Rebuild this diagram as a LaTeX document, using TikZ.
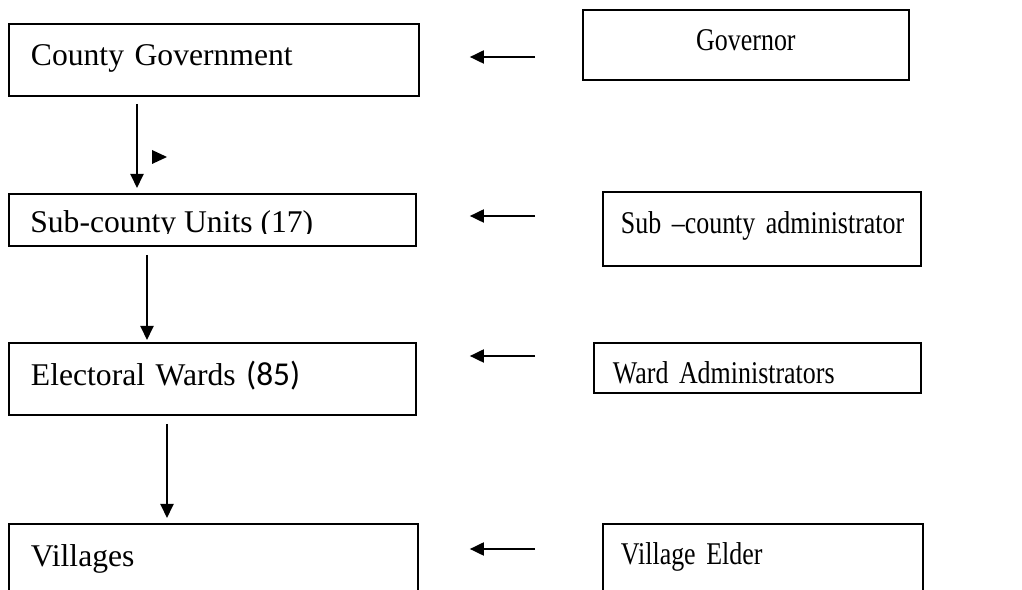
\documentclass[tikz,border=0pt]{standalone}
\usepackage{fontspec}
\setmainfont{Liberation Serif}
\newfontfamily\narrowserif[FakeStretch=0.82, WordSpace=0.85]{Liberation Serif}
\newfontfamily\calibrifont{Carlito}
\usetikzlibrary{arrows.meta}

\begin{document}
\begin{tikzpicture}[x=0.02cm, y=-0.02cm,
  >={Triangle[length=0.28cm, width=0.26cm]},
  every node/.style={font=\fontsize{18}{22}\selectfont},
  unitbox/.style={draw, line width=1.1pt, anchor=north west, align=left, inner ysep=0pt},
  officebox/.style={unitbox, font=\fontsize{18}{22}\selectfont\narrowserif},
  lift/.style={text height=#1, text depth=0pt},
  link/.style={->, line width=1.1pt}]
  \useasboundingbox (0,0) rectangle (1022,590);

  % left column: units of government
  \node[unitbox, inner xsep=0.44cm, text width=7.32cm, minimum height=1.44cm, lift=6.2pt] (county) at (8,23) {County Government};
  \node[unitbox, inner xsep=0pt, text width=8.14cm, minimum height=1.04cm] (units) at (8,193) {};
  \node[unitbox, inner xsep=0.44cm, text width=7.26cm, minimum height=1.44cm, lift=7.4pt] (wards) at (8,342) {Electoral Wards {\fontsize{19}{22}\calibrifont(85)}};
  \node[unitbox, inner xsep=0.44cm, text width=7.30cm, minimum height=1.54cm, lift=4.5pt] (villages) at (8,523) {Villages};

  \begin{scope}
    \clip (8,193) rectangle (415,234);
    \node[anchor=base west, inner sep=0pt] (unitstext) at (30,233) {Sub-county Units (17)};
  \end{scope}

  % right column: officers
  \node[officebox, align=center, inner xsep=0pt, text width=6.52cm, minimum height=1.4cm, lift=6.2pt] (governor) at (582,9) {Governor};
  \node[officebox, inner xsep=0.36cm, text width=5.64cm, minimum height=1.48cm, lift=5.1pt] (subadmin) at (602,191) {\mbox{Sub –county administrator}};
  \node[officebox, inner xsep=0.38cm, text width=5.78cm, minimum height=1.0cm, lift=17.6pt] (wardadmin) at (593,342) {Ward Administrators};
  \node[officebox, inner xsep=0.36cm, text width=5.68cm, minimum height=1.54cm, lift=2.8pt] (elder) at (602,523) {Village Elder};

  % downward arrows
  \coordinate (drop1) at (137,0);
  \coordinate (drop2) at (147,0);
  \coordinate (drop3) at (167,0);
  \draw[link, shorten <=0.14cm, shorten >=0.1cm] (county.south -| drop1) -- (units.north -| drop1);
  \draw[link, shorten <=0.16cm, shorten >=0.04cm] (units.south -| drop2) -- (wards.north -| drop2);
  \draw[link, shorten <=0.16cm, shorten >=0.1cm] (wards.south -| drop3) -- (villages.north -| drop3);
  \fill (152,150) -- (167,157) -- (152,164) -- cycle;

  % arrows from the officers
  \coordinate (tail1) at (535,57);
  \coordinate (tail2) at (535,216);
  \coordinate (tail3) at (535,356);
  \coordinate (tail4) at (535,549);
  \draw[link, shorten >=1cm] (tail1) -- (county.east |- tail1);
  \draw[link, shorten >=1.06cm] (tail2) -- (units.east |- tail2);
  \draw[link, shorten >=1.06cm] (tail3) -- (wards.east |- tail3);
  \draw[link, shorten >=1.02cm] (tail4) -- (villages.east |- tail4);
\end{tikzpicture}
\end{document}
